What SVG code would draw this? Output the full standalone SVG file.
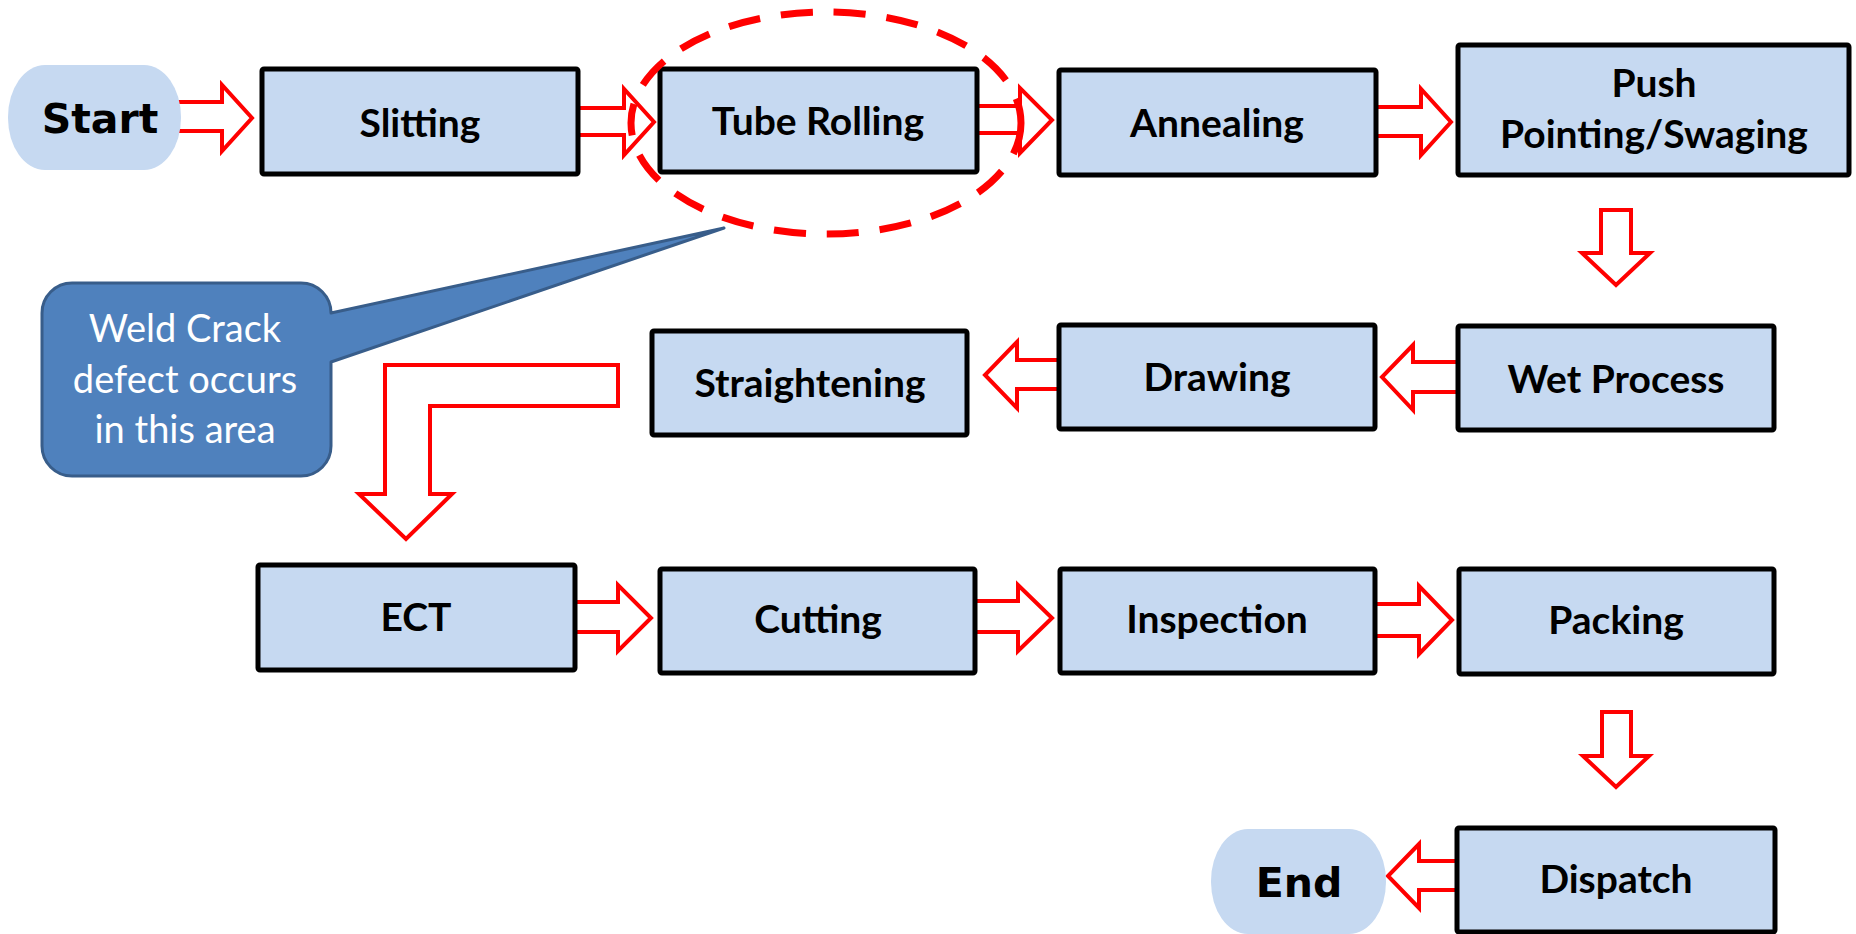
<svg xmlns="http://www.w3.org/2000/svg" width="1856" height="934" viewBox="0 0 1856 934">
<style>
.box{fill:#C6D9F1;stroke:#000;stroke-width:5}
.term{fill:#C6D9F1;stroke:none}
.lbl{font-family:Lato,"Liberation Sans",sans-serif;font-weight:bold;font-size:39px;fill:#000;text-anchor:middle}
.term-lbl{font-family:"DejaVu Sans",Verdana,sans-serif;font-weight:bold;font-size:41px;fill:#000;text-anchor:middle}
.arr{fill:#fff;stroke:#FF0000;stroke-width:4;stroke-linejoin:miter}
.callout-txt{font-family:Lato,"Liberation Sans",sans-serif;font-size:38px;fill:#fff;text-anchor:middle}
</style>
<rect width="1856" height="934" fill="#fff"/>
<g id="connectors">
<polygon class="arr" points="170,102 222,102 222,85 252,118 222,151 222,131 170,131"/>
<polygon class="arr" points="578,108 624,108 624,89 654,122 624,155 624,135 578,135"/>
<polygon class="arr" points="977,106 1020,106 1020,88 1052,120 1020,153 1020,133 977,133"/>
<polygon class="arr" points="1376,107 1421,107 1421,89 1451,122 1421,155 1421,136 1376,136"/>
<polygon class="arr" points="1601,210 1631,210 1631,253 1650,253 1616,285 1582,253 1601,253"/>
<polygon class="arr" points="1458,362 1413,362 1413,345 1382,377 1413,410 1413,392 1458,392"/>
<polygon class="arr" points="1059,360 1017,360 1017,342 985,375 1017,408 1017,389 1059,389"/>
<polygon class="arr" points="385,365 618,365 618,406 430,406 430,494 452,494 406,539 359,494 385,494"/>
<polygon class="arr" points="574,602 618,602 618,585 651,618 618,651 618,632 574,632"/>
<polygon class="arr" points="975,601 1018,601 1018,585 1052,618 1018,651 1018,632 975,632"/>
<polygon class="arr" points="1375,604 1419,604 1419,586 1452,620 1419,654 1419,636 1375,636"/>
<polygon class="arr" points="1602,712 1631,712 1631,756 1649,756 1616,787 1583,756 1602,756"/>
<polygon class="arr" points="1457,861 1419,861 1419,844 1388,876 1419,908 1419,890 1457,890"/>
</g>
<g id="start"><rect class="term" x="8" y="65" width="173" height="105" rx="37" ry="52"/><text class="term-lbl" x="100" y="133">Start</text></g>
<g id="slitting"><rect class="box" x="262" y="69" width="316" height="105" rx="2"/><text class="lbl" x="420" y="137">Slitting</text></g>
<g id="tube-rolling"><rect class="box" x="660" y="69" width="317" height="103" rx="2"/><text class="lbl" x="818" y="135">Tube Rolling</text></g>
<g id="annealing"><rect class="box" x="1059" y="70" width="317" height="105" rx="2"/><text class="lbl" x="1217" y="137">Annealing</text></g>
<g id="push-pointing"><rect class="box" x="1458" y="45" width="391" height="130" rx="2"/><text class="lbl" x="1654" y="97">Push</text><text class="lbl" x="1654" y="148">Pointing/Swaging</text></g>
<g id="wet-process"><rect class="box" x="1458" y="326" width="316" height="104" rx="2"/><text class="lbl" x="1616" y="393">Wet Process</text></g>
<g id="drawing"><rect class="box" x="1059" y="325" width="316" height="104" rx="2"/><text class="lbl" x="1217" y="391">Drawing</text></g>
<g id="straightening"><rect class="box" x="652" y="331" width="315" height="104" rx="2"/><text class="lbl" x="810" y="397">Straightening</text></g>
<g id="ect"><rect class="box" x="258" y="565" width="317" height="105" rx="2"/><text class="lbl" x="416" y="631">ECT</text></g>
<g id="cutting"><rect class="box" x="660" y="569" width="315" height="104" rx="2"/><text class="lbl" x="818" y="633">Cutting</text></g>
<g id="inspection"><rect class="box" x="1060" y="569" width="315" height="104" rx="2"/><text class="lbl" x="1217" y="633">Inspection</text></g>
<g id="packing"><rect class="box" x="1459" y="569" width="315" height="105" rx="2"/><text class="lbl" x="1616" y="634">Packing</text></g>
<g id="dispatch"><rect class="box" x="1457" y="828" width="318" height="104" rx="2"/><text class="lbl" x="1616" y="893">Dispatch</text></g>
<g id="end"><rect class="term" x="1211" y="829" width="175" height="105" rx="37" ry="52"/><text class="term-lbl" x="1299" y="897">End</text></g>
<g id="highlight"><ellipse cx="826" cy="123" rx="195" ry="111" fill="none" stroke="#FF0000" stroke-width="7" stroke-dasharray="32 21"/></g>
<g id="callout">
<path d="M72,283 H301 A30,30 0 0 1 331,313 L724,228 L331,362 V446 A30,30 0 0 1 301,476 H72 A30,30 0 0 1 42,446 V313 A30,30 0 0 1 72,283 Z" fill="#4F81BD" stroke="#385D8A" stroke-width="3" stroke-linejoin="round"/>
<text class="callout-txt" x="185" y="342">Weld Crack</text>
<text class="callout-txt" x="185" y="393">defect occurs</text>
<text class="callout-txt" x="185" y="443">in this area</text>
</g>
</svg>
